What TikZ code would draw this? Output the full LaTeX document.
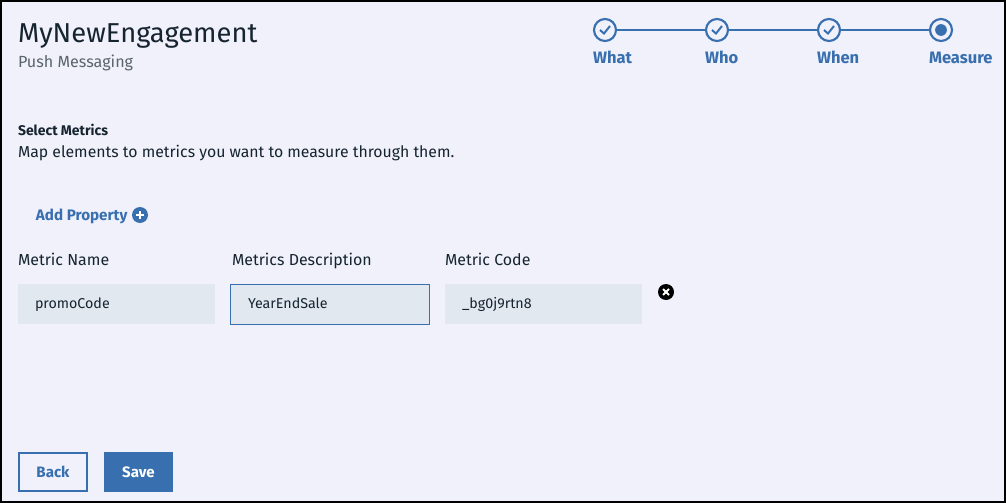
\documentclass[tikz,border=0pt]{standalone}
\usepackage{fontspec}
\setmainfont{Fira Sans}
\usetikzlibrary{positioning, calc}
\definecolor{myblue}{RGB}{56, 111, 175}
\definecolor{mypage}{RGB}{240, 241, 250}
\definecolor{myfield}{RGB}{225, 232, 240}
\definecolor{myink}{RGB}{22, 36, 48}
\definecolor{mygray}{RGB}{90, 100, 110}
\tikzset{
    txt/.style={anchor=base west, inner sep=0pt, outer sep=0pt, text=myink},
    steplabel/.style={txt, text=myblue, font=\fontsize{12.4}{14}\selectfont\bfseries},
    stepdot/.style={circle, draw=myblue, line width=1.6pt, minimum size=16.5pt, inner sep=0pt, fill=mypage},
    fieldbox/.style={anchor=north west, fill=myfield, minimum height=30pt, inner sep=0pt, outer sep=0pt},
    fieldlabel/.style={txt, font=\fontsize{11.95}{14}\selectfont},
    fieldtext/.style={txt, font=\fontsize{10.7}{13}\selectfont},
}
\begin{document}
\begin{tikzpicture}[x=0.75pt, y=-0.75pt]
    \useasboundingbox (0,0) rectangle (1006,503);
    \filldraw[fill=mypage, draw=black, line width=1.5pt] (1,1) rectangle (1005,502);

    \node[txt, font=\fontsize{20.5}{24}\selectfont] (title) at (18,43) {MyNewEngagement};
    \node[txt, text=mygray, font=\fontsize{12.1}{14}\selectfont] (subtitle) at (18,67.5) {Push Messaging};

    \node[stepdot] (what) at (605,30) {};
    \node[stepdot] (who) at (717,30) {};
    \node[stepdot] (when) at (829,30) {};
    \node[stepdot] (measure) at (941,30) {};
    \draw[myblue, line width=1.6pt] (what) -- (who);
    \draw[myblue, line width=1.6pt] (who) -- (when);
    \draw[myblue, line width=1.6pt] (when) -- (measure);

    \foreach \n in {what, who, when} {
        \draw[myblue, line width=1.5pt] ($(\n)+(-5,0)$) -- ($(\n)+(-1,3.5)$) -- ($(\n)+(5,-4)$);
    }
    \fill[myblue] (measure) circle (4.4pt);

    \node[steplabel] (whatlabel) at (593,63.5) {What};
    \node[steplabel] (wholabel) at (705,63.5) {Who};
    \node[steplabel] (whenlabel) at (817,63.5) {When};
    \node[steplabel] (measurelabel) at (929,63.5) {Measure};

    \node[txt, font=\fontsize{10.5}{12}\selectfont\bfseries] (selectmetrics) at (18,135) {Select Metrics};
    \node[txt, font=\fontsize{11.85}{14}\selectfont] (maptext) at (18,157) {Map elements to metrics you want to measure through them.};

    \node[txt, text=myblue, font=\fontsize{11.4}{13}\selectfont\bfseries] (addproperty) at (36,220) {Add Property};
    \node[circle, fill=myblue, minimum size=12pt, inner sep=0pt] (addicon) at (140,215) {};
    \draw[white, line width=1.6pt] ($(addicon)+(-4,0)$) -- ($(addicon)+(4,0)$);
    \draw[white, line width=1.6pt] ($(addicon)+(0,-4)$) -- ($(addicon)+(0,4)$);

    \node[fieldlabel] (namelabel) at (18,265) {Metric Name};
    \node[fieldlabel] (desclabel) at (232,265) {Metrics Description};
    \node[fieldlabel] (codelabel) at (445,265) {Metric Code};

    \node[fieldbox, minimum width=148pt] (namebox) at (18,284) {};
    \node[fieldbox, minimum width=149pt, draw=myblue, line width=0.75pt] (descbox) at (230.5,284) {};
    \node[fieldbox, minimum width=148pt] (codebox) at (445,284) {};
    \node[fieldtext] (nametext) at (35,308) {promoCode};
    \node[fieldtext] (desctext) at (248,308) {YearEndSale};
    \node[fieldtext] (codetext) at (462,308) {\_bg0j9rtn8};

    \node[circle, fill=black, minimum size=12pt, inner sep=0pt] (removeicon) at (666,292) {};
    \draw[white, line width=1.5pt] ($(removeicon)+(-3,-3)$) -- ($(removeicon)+(3,3)$);
    \draw[white, line width=1.5pt] ($(removeicon)+(-3,3)$) -- ($(removeicon)+(3,-3)$);

    \node[draw=myblue, line width=1.5pt, minimum width=51pt, minimum height=28.5pt, inner sep=0pt, text=myblue, font=\fontsize{11.3}{13}\selectfont\bfseries] (back) at (53,472) {Back};
    \node[fill=myblue, minimum width=52pt, minimum height=30pt, inner sep=0pt, text=white, font=\fontsize{11.3}{13}\selectfont\bfseries] (save) at (138.5,472) {Save};
\end{tikzpicture}
\end{document}
